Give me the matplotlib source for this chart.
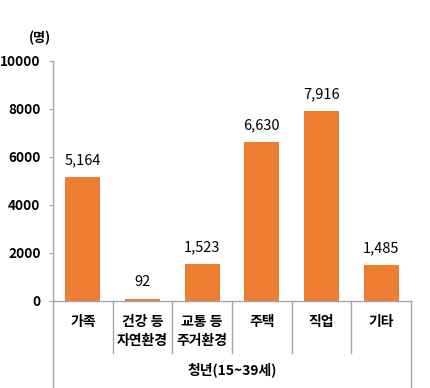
import matplotlib
matplotlib.use("Agg")
import matplotlib.pyplot as plt

plt.rcParams['font.family'] = ['Noto Sans CJK KR', 'DejaVu Sans']

categories = ["가족", "건강 등\n자연환경", "교통 등\n주거환경", "주택", "직업", "기타"]
values = [5164, 92, 1523, 6630, 7916, 1485]
yticks = [0, 2000, 4000, 6000, 8000, 10000]
group_label = "청년(15~39세)"
unit_label = "(명)"

W, H = 430, 388
fig = plt.figure(figsize=(W/100, H/100), dpi=100)
L, R, B, T = 53, 411, 301, 61
ax = fig.add_axes([L/W, 1-B/H, (R-L)/W, (B-T)/H])

x = list(range(len(categories)))
ax.bar(x, values, width=0.59, color="#ED7D31", zorder=2)
ax.set_xlim(-0.5, len(categories)-0.5)
ax.set_ylim(0, 10000)
ax.set_yticks(yticks)
ax.set_yticklabels([str(v) for v in yticks], fontsize=9.8, fontweight='bold')
ax.tick_params(axis='y', length=3, color="#A6A6A6", pad=6)
ax.set_xticks([])

for s in ['top', 'right']:
    ax.spines[s].set_visible(False)
for s in ['left', 'bottom']:
    ax.spines[s].set_color("#A6A6A6")
    ax.spines[s].set_linewidth(1.0)

for xi, v in zip(x, values):
    ax.annotate(f"{v:,}", (xi, v), xytext=(0, 7), textcoords='offset points',
                ha='center', va='bottom', fontsize=10.5)

# category labels and separators below axis
trans = ax.get_xaxis_transform()
def ypix(p):
    return (B - p) / (B - T)
for xi, c in zip(x, categories):
    ax.text(xi, ypix(315), c, transform=trans, ha='center', va='top',
            fontsize=10, fontweight='bold', linespacing=1.5, clip_on=False)
for b in range(1, len(categories)):
    ax.plot([b-0.5, b-0.5], [0, ypix(353)], transform=trans, color="#A6A6A6",
            lw=1.0, clip_on=False)
for b in [-0.5, len(categories)-0.5]:
    ax.plot([b, b], [0, ypix(388)], transform=trans, color="#A6A6A6",
            lw=1.0, clip_on=False)
ax.text((len(categories)-1)/2, ypix(370), group_label, transform=trans,
        ha='center', va='center', fontsize=10, fontweight='bold', clip_on=False)

fig.text(40/W, 1-38/H, unit_label, ha='center', va='center', fontsize=9.5,
         fontweight='bold')

fig.savefig("out.png", dpi=100)
